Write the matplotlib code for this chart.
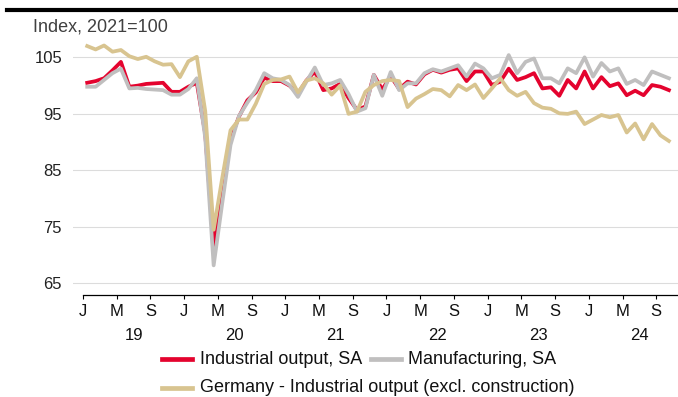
import matplotlib
matplotlib.use("Agg")
import matplotlib.pyplot as plt
from matplotlib.lines import Line2D
import matplotlib.transforms as mtransforms

plt.rcParams['font.family'] = ['Liberation Sans', 'DejaVu Sans']

# monthly data, Jan 2019 .. Oct 2024 (index, 2021=100)
industrial = [100.5, 100.8, 101.3, 102.7, 104.2, 99.8, 100.0, 100.3, 100.4, 100.5, 98.9, 98.9,
              99.8, 100.5, 91.5, 71.5, 81.5, 90.5, 94.5, 97.4, 98.8, 101.4, 100.8, 100.8,
              100.0, 98.6, 100.9, 102.5, 99.2, 99.5, 100.3, 97.8, 95.7, 96.3, 101.9, 99.3,
              101.7, 99.4, 100.7, 100.2, 102.0, 102.8, 102.3, 102.8, 103.05, 100.8, 102.5, 102.5,
              100.1, 100.7, 103.0, 101.0, 101.5, 102.2, 99.5, 99.7, 98.2, 101.0, 99.5, 102.5,
              99.5, 101.5, 99.9, 100.4, 98.3, 99.1, 98.3, 100.1, 99.8, 99.2]
manufacturing = [99.8, 99.8, 101.0, 102.2, 103.0, 99.5, 99.6, 99.4, 99.3, 99.2, 98.4, 98.4,
                 99.4, 101.3, 90.8, 68.2, 79.0, 89.5, 94.6, 97.0, 99.2, 102.2, 101.3, 101.0,
                 100.1, 98.0, 100.7, 103.2, 100.1, 100.4, 101.0, 98.5, 95.4, 96.0, 101.9, 98.2,
                 102.4, 99.2, 100.4, 100.4, 102.2, 102.9, 102.5, 103.05, 103.6, 101.6, 103.9, 103.05,
                 101.3, 101.9, 105.4, 102.2, 104.2, 104.8, 101.3, 101.3, 100.4, 103.05, 102.2, 105.0,
                 101.6, 104.0, 102.5, 103.05, 100.3, 101.0, 100.1, 102.5, 101.9, 101.3]
germany = [107.0, 106.4, 107.1, 106.0, 106.3, 105.2, 104.7, 105.1, 104.3, 103.7, 103.8, 101.5,
           104.3, 105.1, 95.5, 74.5, 83.5, 92.1, 94.0, 94.0, 96.8, 100.3, 101.0, 101.1,
           101.6, 98.8, 100.9, 101.3, 100.4, 98.4, 100.0, 95.0, 95.4, 98.9, 100.1, 100.8,
           101.0, 100.8, 96.2, 97.7, 98.5, 99.4, 99.2, 98.1, 100.1, 99.2, 100.2, 97.8,
           99.5, 101.3, 99.2, 98.2, 98.9, 96.9, 96.1, 95.9, 95.1, 95.0, 95.4, 93.2,
           94.0, 94.8, 94.4, 94.8, 91.7, 93.3, 90.5, 93.2, 91.2, 90.2]
month_letters = ['J', 'M', 'S']
years = ['19', '20', '21', '22', '23', '24']

red = '#e4032e'
grey = '#c0bfbf'
tan = '#d8c490'

fig = plt.figure(figsize=(6.78, 3.97), dpi=100)
ax = fig.add_axes([72.7 / 678, (397 - 295.3) / 397, 1 - 72.7 / 678, (295.3 - 40.4) / 397])

x = [i + 0.5 for i in range(len(industrial))]
ax.plot(x, industrial, color=red, lw=2.7, zorder=3)
ax.plot(x, manufacturing, color=grey, lw=2.7, zorder=4)
ax.plot(x, germany, color=tan, lw=2.7, zorder=5)

ax.set_xlim(-1.22, 70.58)
ax.set_ylim(62.9, 108)

ax.set_yticks([65, 75, 85, 95, 105])
ax.tick_params(axis='y', length=0, pad=7.7, labelsize=12, labelcolor='#222222')
ax.yaxis.grid(True, color='#dcdcdc', lw=0.8)
ax.set_axisbelow(True)

ticks = list(range(0, 72, 4))
ax.set_xticks(ticks)
ax.set_xticklabels([month_letters[(t // 4) % 3] for t in ticks])
ax.tick_params(axis='x', which='major', length=3, width=0.8, pad=3.5, labelsize=12,
               labelcolor='#111111', direction='out')
ax.set_xticks(list(range(0, 72, 12)), minor=True)
ax.tick_params(axis='x', which='minor', length=6, width=0.8, direction='out')

for s in ['top', 'left', 'right']:
    ax.spines[s].set_visible(False)
ax.spines['bottom'].set_bounds(0, 70.58)
ax.spines['bottom'].set_linewidth(0.9)

trans = mtransforms.blended_transform_factory(ax.transData, ax.transAxes)
for k, yr in enumerate(years):
    ax.text(12 * k + 6, -0.158, yr, transform=trans, ha='center', va='center',
            fontsize=12, color='#111111')

fig.text(33 / 678, 1 - 26.7 / 397, 'Index, 2021=100', ha='left', va='center',
         fontsize=13, color='#404040')
fig.add_artist(Line2D([7 / 678, 1], [1 - 10 / 397, 1 - 10 / 397], color='black', lw=3,
                      transform=fig.transFigure))

# legend drawn by hand
legend_items = [(red, 'Industrial output, SA', 162, 359),
                (grey, 'Manufacturing, SA', 371, 359),
                (tan, 'Germany - Industrial output (excl. construction)', 162, 388)]
for col, lab, px, py in legend_items:
    fig.add_artist(Line2D([px / 678, (px + 30) / 678], [1 - py / 397, 1 - py / 397],
                          color=col, lw=3.4, transform=fig.transFigure))
    fig.text((px + 37.5) / 678, 1 - py / 397, lab, ha='left', va='center',
             fontsize=13, color='#111111')

fig.savefig('out.png', dpi=100)
